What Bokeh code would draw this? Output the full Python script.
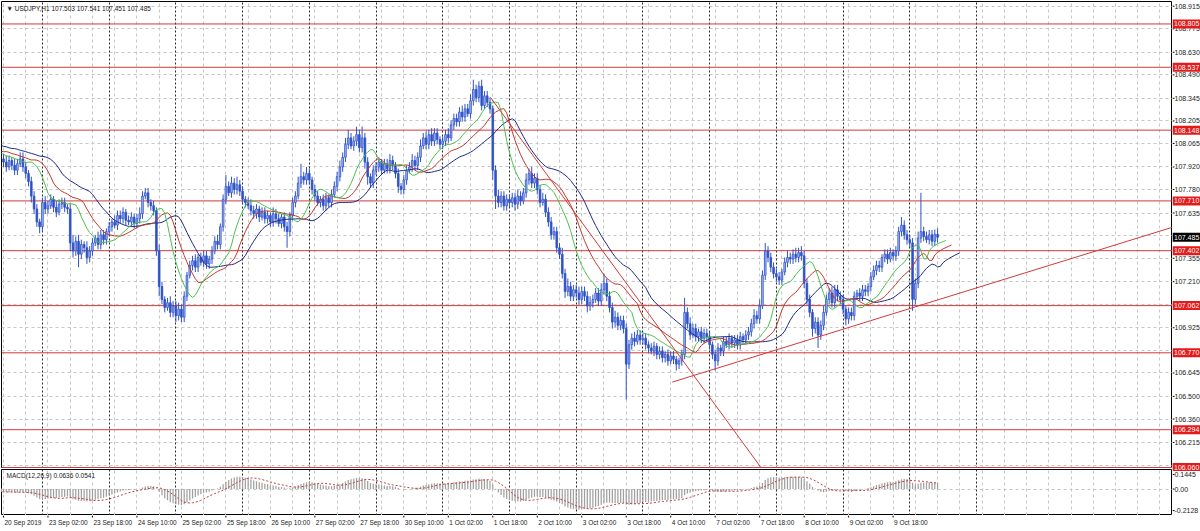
import numpy as np
from bokeh.plotting import figure
from bokeh.layouts import column, row
from bokeh.models import Range1d, FixedTicker, Label, Grid, ColumnDataSource
from bokeh.core.properties import value
from bokeh.embed import file_html
from bokeh.resources import INLINE

# ---------------- data (USDJPY H1, 20 Sep 2019 10:00 .. 10 Oct 2019 10:00) ----------------
# hourly closes before the first visible bar (only used to warm up the indicators)
PRE_CLOSE = [108.12, 108.15, 108.10, 108.14, 108.18, 108.13, 108.16, 108.11, 108.08, 108.12,
             108.09, 108.14, 108.10, 108.06, 108.09, 108.05, 108.08, 108.12, 108.07, 108.04,
             108.06, 108.02, 108.05, 108.08, 108.03, 108.00, 108.04, 108.01, 107.98, 108.02,
             108.05, 108.00, 107.97, 108.01, 107.96, 107.99, 108.02, 107.98, 107.95, 107.97]

CLOSE = [
    # 20 Sep 10:00-23:00
    107.95, 107.92, 107.96, 107.93, 107.90, 107.94, 107.97, 107.92, 107.88, 107.83, 107.74, 107.66, 107.58, 107.55,
    # 23 Sep
    107.70, 107.66, 107.68, 107.72, 107.67, 107.64, 107.69, 107.70, 107.67, 107.66, 107.45, 107.40,
    107.46, 107.38, 107.44, 107.42, 107.36, 107.40, 107.45, 107.48, 107.44, 107.50, 107.47, 107.52,
    # 24 Sep
    107.55, 107.58, 107.56, 107.62, 107.60, 107.64, 107.59, 107.58, 107.61, 107.57, 107.60, 107.63,
    107.74, 107.76, 107.70, 107.68, 107.65, 107.40, 107.18, 107.10, 107.05, 107.08, 107.02, 107.06,
    # 25 Sep
    107.00, 107.04, 106.99, 107.12, 107.25, 107.31, 107.34, 107.30, 107.36, 107.33, 107.37, 107.32,
    107.35, 107.40, 107.46, 107.44, 107.55, 107.72, 107.80, 107.76, 107.82, 107.78, 107.81, 107.77,
    # 26 Sep
    107.72, 107.70, 107.68, 107.65, 107.63, 107.66, 107.61, 107.64, 107.60, 107.62, 107.58, 107.63,
    107.60, 107.57, 107.61, 107.55, 107.52, 107.62, 107.70, 107.74, 107.82, 107.86, 107.84, 107.88,
    # 27 Sep
    107.84, 107.78, 107.74, 107.70, 107.72, 107.68, 107.73, 107.70, 107.75, 107.80, 107.86, 107.92,
    107.98, 108.06, 108.10, 108.05, 108.08, 108.12, 108.04, 108.10, 107.95, 107.86, 107.82, 107.90,
    # 30 Sep
    107.92, 107.95, 107.90, 107.94, 107.91, 107.96, 107.93, 107.88, 107.80, 107.78, 107.84, 107.90,
    107.92, 107.96, 107.93, 107.98, 108.05, 108.10, 108.06, 108.12, 108.08, 108.13, 108.09, 108.06,
    # 1 Oct
    108.08, 108.12, 108.10, 108.18, 108.22, 108.20, 108.26, 108.23, 108.28, 108.25, 108.33, 108.40,
    108.35, 108.42, 108.30, 108.36, 108.32, 108.28, 107.90, 107.74, 107.70, 107.74, 107.68, 107.72,
    # 2 Oct
    107.70, 107.73, 107.69, 107.74, 107.71, 107.76, 107.84, 107.88, 107.82, 107.85, 107.78, 107.70,
    107.72, 107.64, 107.58, 107.50, 107.52, 107.42, 107.38, 107.26, 107.15, 107.18, 107.12, 107.16,
    # 3 Oct
    107.14, 107.10, 107.15, 107.12, 107.06, 107.08, 107.10, 107.14, 107.09, 107.16, 107.20, 107.12,
    107.05, 106.96, 106.99, 106.94, 106.97, 106.92, 106.70, 106.82, 106.86, 106.84, 106.88, 106.85,
    # 4 Oct
    106.86, 106.82, 106.80, 106.78, 106.81, 106.76, 106.78, 106.74, 106.76, 106.72, 106.75, 106.73,
    106.70, 106.72, 106.76, 107.02, 106.95, 106.88, 106.92, 106.87, 106.90, 106.86, 106.89, 106.87,
    # 7 Oct
    106.82, 106.76, 106.72, 106.80, 106.78, 106.84, 106.82, 106.86, 106.83, 106.85, 106.82, 106.87,
    106.85, 106.88, 106.90, 106.95, 107.00, 106.98, 107.06, 107.25, 107.40, 107.36, 107.30, 107.26,
    # 8 Oct
    107.24, 107.22, 107.27, 107.33, 107.36, 107.35, 107.38, 107.36, 107.39, 107.37, 107.20, 107.10,
    107.02, 106.92, 106.96, 106.88, 106.94, 107.02, 107.10, 107.14, 107.08, 107.16, 107.12, 107.10,
    # 9 Oct
    107.04, 106.98, 107.02, 107.00, 107.12, 107.14, 107.12, 107.16, 107.15, 107.18, 107.24, 107.28,
    107.31, 107.30, 107.36, 107.38, 107.35, 107.39, 107.37, 107.40, 107.52, 107.56, 107.50, 107.47,
    # 10 Oct 00:00-10:00
    107.45, 107.10, 107.20, 107.48, 107.52, 107.49, 107.47, 107.50, 107.46, 107.503, 107.485,
]

# upper / lower shadows in pips (0.01)
UPPER_WICK = [
    3, 4, 3, 2, 4, 3, 4, 4, 3, 2, 3, 3, 3, 2,
    3, 4, 3, 3, 2, 4, 3, 3, 3, 2, 3, 5, 3, 4, 3, 2, 4, 3, 3, 2, 4, 3, 3, 2,
    3, 2, 4, 3, 3, 3, 2, 3, 3, 2, 3, 4, 3, 3, 3, 2, 3, 2, 4, 3, 2, 3, 4, 3,
    3, 4, 3, 3, 2, 3, 3, 4, 2, 3, 3, 3, 2, 3, 3, 4, 2, 3, 7, 3, 4, 3, 5, 3,
    3, 2, 3, 4, 3, 3, 2, 3, 3, 3, 2, 4, 3, 3, 2, 3, 3, 2, 3, 3, 4, 8, 3, 4,
    3, 2, 3, 3, 2, 3, 3, 2, 3, 3, 3, 4, 3, 4, 5, 3, 3, 5, 3, 7, 3, 3, 2, 3,
    3, 3, 2, 3, 3, 4, 3, 2, 3, 2, 3, 3, 3, 4, 3, 3, 4, 3, 4, 3, 4, 3, 3, 2,
    3, 3, 4, 3, 3, 3, 3, 4, 3, 3, 4, 6, 3, 3, 4, 3, 3, 3, 2, 3, 4, 3, 3, 3,
    3, 3, 3, 4, 3, 3, 4, 3, 4, 3, 3, 3, 4, 3, 3, 3, 3, 3, 3, 4, 3, 5, 3, 3,
    3, 4, 3, 3, 3, 4, 3, 3, 3, 4, 6, 3, 3, 3, 4, 3, 3, 3, 3, 3, 3, 4, 3, 3,
    3, 3, 2, 3, 3, 2, 3, 3, 2, 3, 3, 3, 2, 2, 3, 9, 3, 4, 3, 3, 2, 3, 3, 3,
    3, 2, 3, 3, 2, 3, 3, 3, 2, 3, 3, 3, 2, 3, 3, 3, 4, 3, 4, 3, 5, 3, 3, 3,
    3, 3, 2, 3, 4, 3, 3, 4, 3, 4, 3, 3, 3, 2, 3, 3, 3, 4, 3, 3, 4, 3, 3, 3,
    3, 2, 3, 3, 3, 2, 3, 3, 3, 2, 3, 3, 3, 3, 2, 3, 3, 3, 2, 3, 3, 5, 3, 3,
    3, 3, 3, 4, 24, 3, 3, 3, 3, 3, 3.8,
]
LOWER_WICK = [
    3, 3, 2, 3, 3, 3, 2, 3, 3, 3, 4, 3, 3, 4,
    3, 3, 3, 2, 3, 3, 2, 3, 3, 3, 5, 4, 3, 8, 3, 3, 4, 3, 3, 2, 3, 3, 3, 3,
    3, 3, 2, 3, 3, 3, 3, 2, 3, 3, 3, 3, 3, 2, 3, 3, 3, 3, 6, 3, 3, 2, 3, 3,
    4, 3, 3, 3, 3, 2, 3, 3, 3, 2, 3, 3, 3, 3, 2, 3, 3, 3, 3, 2, 3, 3, 3, 3,
    3, 3, 2, 3, 3, 3, 3, 2, 3, 3, 3, 3, 3, 2, 3, 3, 10, 3, 3, 3, 2, 3, 3, 3,
    3, 3, 3, 2, 3, 3, 3, 3, 3, 2, 3, 3, 3, 3, 3, 2, 3, 3, 3, 3, 4, 5, 3, 3,
    3, 3, 3, 2, 3, 3, 3, 3, 4, 3, 3, 3, 2, 3, 3, 3, 3, 2, 3, 3, 3, 3, 3, 3,
    3, 3, 3, 2, 3, 3, 3, 3, 3, 2, 3, 3, 3, 3, 3, 2, 3, 3, 6, 8, 3, 3, 3, 3,
    3, 3, 4, 3, 3, 2, 3, 3, 3, 3, 3, 3, 2, 3, 3, 3, 3, 3, 3, 3, 4, 3, 3, 3,
    3, 3, 3, 3, 4, 3, 3, 2, 3, 3, 3, 3, 3, 4, 3, 3, 3, 3, 22, 3, 3, 3, 2, 3,
    3, 3, 3, 2, 3, 3, 3, 3, 3, 3, 2, 3, 4, 3, 3, 3, 3, 3, 2, 3, 3, 3, 3, 3,
    3, 3, 6, 3, 3, 3, 2, 3, 3, 3, 3, 3, 2, 3, 3, 3, 3, 3, 3, 2, 3, 3, 3, 3,
    3, 3, 3, 2, 3, 3, 3, 3, 3, 3, 3, 3, 3, 5, 3, 8, 3, 3, 2, 3, 3, 3, 3, 3,
    3, 4, 3, 3, 3, 2, 3, 3, 3, 3, 3, 2, 3, 3, 3, 3, 3, 2, 3, 3, 3, 3, 3, 3,
    3, 7, 3, 3, 3, 3, 2, 3, 3, 3, 3.4,
]

TIME_TICKS = [0, 16, 32, 48, 64, 80, 96, 112, 128, 144, 160, 176, 192, 208, 224, 240, 256, 272, 288, 304, 320]
TIME_LABELS = ["20 Sep 2019", "23 Sep 02:00", "23 Sep 18:00", "24 Sep 10:00", "25 Sep 02:00",
               "25 Sep 18:00", "26 Sep 10:00", "27 Sep 02:00", "27 Sep 18:00", "30 Sep 10:00",
               "1 Oct 02:00", "1 Oct 18:00", "2 Oct 10:00", "3 Oct 02:00", "3 Oct 18:00",
               "4 Oct 10:00", "7 Oct 02:00", "7 Oct 18:00", "8 Oct 10:00", "9 Oct 02:00", "9 Oct 18:00"]
DAY_STARTS = [14, 38, 62, 86, 110, 134, 158, 182, 206, 230, 254, 278, 302, 326, 350]
GRID_X = list(range(0, 424, 8))

PRICE_TICKS = [108.915, 108.775, 108.630, 108.490, 108.345, 108.205, 108.065, 107.920, 107.780,
               107.635, 107.495, 107.355, 107.210, 107.070, 106.925, 106.785, 106.645, 106.500,
               106.360, 106.215, 106.075]
HIDDEN_TICKS = [107.495, 107.070, 106.785, 106.075]
LEVELS = [108.805, 108.537, 108.148, 107.710, 107.402, 107.062, 106.770, 106.294, 106.060]
CURRENT_PRICE = 107.485

TREND_UP_X = [240.6, 420.5]
TREND_UP_Y = [106.589, 107.547]
TREND_DN_X = [175.2, 272.3]
TREND_DN_Y = [108.350, 106.064]

MACD_TICKS = [0.1445, 0.0, -0.2128]
MACD_LABELS = ["0.1445", "0.00", "-0.2128"]

TITLE = "\u25BC USDJPY,H1  107.503 107.541 107.451 107.485"
MACD_TITLE = "MACD(12,26,9) 0.0636 0.0541"

# ---------------- styling / geometry ----------------
FONT = "Liberation Sans"
FS_AXIS = "7px"
FS_SMALL = "6.5px"
TEXT_COLOR = "#222222"
CANDLE_LINE = "#2f52c8"
BULL_FILL = "#a9bcf0"
BEAR_FILL = "#2f52c8"
LEVEL_COLOR = "#d23a3a"
LABEL_RED = "#e31b1b"
GRID_COLOR = "#c6c6c6"
SEP_COLOR = "#2a2a2a"
X_START, X_END = -0.72, 420.5
FRAME_W, AXIS_W = 1171, 28
MAIN_H, MACD_H, TIME_H = 467, 46, 12
Y_MIN, Y_MAX = 106.054, 108.944          # main panel price range
M_MIN, M_MAX = -0.262, 0.194             # MACD panel range
PRICE_PX = MAIN_H / (Y_MAX - Y_MIN)       # pixels per price unit
MACD_PX = MACD_H / (M_MAX - M_MIN)

# ---------------- derived series ----------------
n_pre = len(PRE_CLOSE)
close = np.array(CLOSE, float)
open_ = np.concatenate([[PRE_CLOSE[-1]], close[:-1]])
high = np.maximum(open_, close) + np.array(UPPER_WICK, float) / 100
low = np.minimum(open_, close) - np.array(LOWER_WICK, float) / 100
idx = np.arange(len(close))
idx_all = np.arange(-n_pre, len(close))
median_all = np.concatenate([np.array(PRE_CLOSE, float), (high + low) / 2])
close_all = np.concatenate([np.array(PRE_CLOSE, float), close])


def smma(x, n):
    out = np.full(len(x), np.nan)
    out[n - 1] = x[:n].mean()
    for i in range(n, len(x)):
        out[i] = (out[i - 1] * (n - 1) + x[i]) / n
    return out


def ema(x, n):
    a = 2.0 / (n + 1)
    out = np.empty(len(x))
    out[0] = x[0]
    for i in range(1, len(x)):
        out[i] = a * x[i] + (1 - a) * out[i - 1]
    return out


jaw = smma(median_all, 13)
teeth = smma(median_all, 8)
lips = smma(median_all, 5)

macd = ema(close_all, 12) - ema(close_all, 26)
signal = np.full(len(macd), np.nan)
for i in range(8, len(macd)):
    signal[i] = macd[i - 8:i + 1].mean()

bull = close >= open_
src = ColumnDataSource(dict(
    x=idx, high=high, low=low,
    top=np.maximum(open_, close), bottom=np.minimum(open_, close),
    fill=[BULL_FILL if b else BEAR_FILL for b in bull],
))


def base_fig(bg="white", **kw):
    return figure(output_backend="svg", toolbar_location=None,
                  x_axis_location=None, y_axis_location=None,
                  min_border=0, background_fill_color=bg, border_fill_color=bg, **kw)


def add_grids(f, ygrid_ticks):
    f.xgrid.ticker = FixedTicker(ticks=GRID_X)
    f.xgrid.grid_line_color = GRID_COLOR
    f.xgrid.grid_line_dash = "3 3"
    f.ygrid.ticker = FixedTicker(ticks=ygrid_ticks)
    f.ygrid.grid_line_color = GRID_COLOR
    f.ygrid.grid_line_dash = "3 3"
    f.add_layout(Grid(dimension=0, ticker=FixedTicker(ticks=DAY_STARTS),
                      grid_line_color=SEP_COLOR, grid_line_dash="2 2", grid_line_width=1))


# ---------------- main price panel ----------------
xr = Range1d(X_START, X_END)
yr = Range1d(Y_MIN, Y_MAX)
p = base_fig(x_range=xr, y_range=yr, frame_width=FRAME_W, frame_height=MAIN_H,
             min_border_left=1, min_border_top=1, outline_line_color="black")
add_grids(p, PRICE_TICKS)

p.segment(x0=X_START, y0=LEVELS, x1=X_END, y1=LEVELS, line_color=LEVEL_COLOR, line_width=1)

p.segment(x0="x", y0="low", x1="x", y1="high", source=src, line_color=CANDLE_LINE, line_width=1)
p.vbar(x="x", width=0.6, top="top", bottom="bottom", source=src,
       fill_color="fill", line_color=CANDLE_LINE, line_width=0.8)

# Alligator (SMMA 13/8/5 of median price, shifted 8/5/3 bars)
p.line(idx_all + 8, jaw, line_color="#1f2a86", line_width=1)
p.line(idx_all + 5, teeth, line_color="#c0392b", line_width=1)
p.line(idx_all + 3, lips, line_color="#4cc04c", line_width=1)

p.line(TREND_UP_X, TREND_UP_Y, line_color=LEVEL_COLOR, line_width=1)
p.line(TREND_DN_X, TREND_DN_Y, line_color=LEVEL_COLOR, line_width=1)

p.add_layout(Label(x=X_START, y=Y_MAX, x_offset=5, y_offset=-3, text=TITLE, text_font=FONT,
                   text_font_size=FS_SMALL, text_color="#202020", text_baseline="top", text_align="left"))

# ---------------- MACD panel ----------------
p2 = base_fig(x_range=xr, y_range=Range1d(M_MIN, M_MAX), frame_width=FRAME_W, frame_height=MACD_H,
              min_border_left=1, min_border_top=1, outline_line_color="black")
add_grids(p2, [0.0])
p2.vbar(x=idx_all, top=macd, bottom=0, width=0.45, fill_color="#a0a0a0", line_color=None)
p2.line(idx_all, signal, line_color="#c43c3c", line_width=1, line_dash="2 2")
p2.add_layout(Label(x=X_START, y=M_MAX, x_offset=5, y_offset=-2, text=MACD_TITLE, text_font=FONT,
                    text_font_size=FS_SMALL, text_color="#202020", text_baseline="top", text_align="left"))

# ---------------- time scale ----------------
pt = base_fig(x_range=xr, y_range=Range1d(-TIME_H, 0), frame_width=FRAME_W, frame_height=TIME_H,
              min_border_left=1, outline_line_color=None)
pt.grid.visible = False
pt.segment(x0=TIME_TICKS, y0=0, x1=TIME_TICKS, y1=-2, line_color="black", line_width=1)
pt.text(x=TIME_TICKS, y=-6.5, text=TIME_LABELS, x_offset=1, text_font=value(FONT), text_font_size=FS_SMALL,
        text_color=TEXT_COLOR, text_baseline="middle", text_align="left")

# ---------------- price scale (right) ----------------
PA_EXTRA = 3  # px the price scale reaches below the main panel
pa = base_fig(x_range=Range1d(0, AXIS_W), y_range=Range1d(Y_MIN - PA_EXTRA / PRICE_PX, Y_MAX),
              frame_width=AXIS_W, frame_height=MAIN_H + PA_EXTRA, min_border_top=1, outline_line_color=None)
pa.grid.visible = False
vis_ticks = [t for t in PRICE_TICKS if t not in HIDDEN_TICKS]
pa.segment(x0=0, y0=PRICE_TICKS, x1=2, y1=PRICE_TICKS, line_color="black", line_width=1)
pa.text(x=2, y=vis_ticks, text=[f"{t:.3f}" for t in vis_ticks], text_font=value(FONT),
        text_font_size=FS_AXIS, text_color=TEXT_COLOR, text_baseline="middle", text_align="left")
pa.rect(x=AXIS_W / 2, y=LEVELS, width=AXIS_W, height=9, height_units="screen",
        fill_color=LABEL_RED, line_color=None)
pa.text(x=1.5, y=LEVELS, text=[f"{v:.3f}" for v in LEVELS], text_font=value(FONT),
        text_font_size=FS_AXIS, text_color="white", text_baseline="middle", text_align="left")
pa.rect(x=AXIS_W / 2, y=[CURRENT_PRICE], width=AXIS_W, height=9, height_units="screen",
        fill_color="black", line_color=None)
pa.text(x=1.5, y=[CURRENT_PRICE], text=[f"{CURRENT_PRICE:.3f}"], text_font=value(FONT),
        text_font_size=FS_AXIS, text_color="white", text_baseline="middle", text_align="left")

pa2_h = (1 + MAIN_H + 1 + MACD_H) - (1 + MAIN_H + PA_EXTRA)
pa2 = base_fig(x_range=Range1d(0, AXIS_W), y_range=Range1d(M_MIN, M_MIN + pa2_h / MACD_PX),
               frame_width=AXIS_W, frame_height=pa2_h, outline_line_color=None)
pa2.grid.visible = False
pa2.segment(x0=0, y0=MACD_TICKS, x1=2, y1=MACD_TICKS, line_color="black", line_width=1)
pa2.text(x=2, y=MACD_TICKS, text=MACD_LABELS, text_font=value(FONT), text_font_size=FS_AXIS,
         text_color=TEXT_COLOR, text_baseline="middle", text_align="left")

# bottom window strip
pg = base_fig(bg="#f0f0f0", x_range=Range1d(0, 1), y_range=Range1d(0, 1),
              frame_width=FRAME_W + 1 + AXIS_W, frame_height=4, outline_line_color=None)
pg.grid.visible = False

layout = column(row(column(p, p2, pt), column(pa, pa2)), pg)
open("out.html", "w").write(file_html(layout, INLINE))
